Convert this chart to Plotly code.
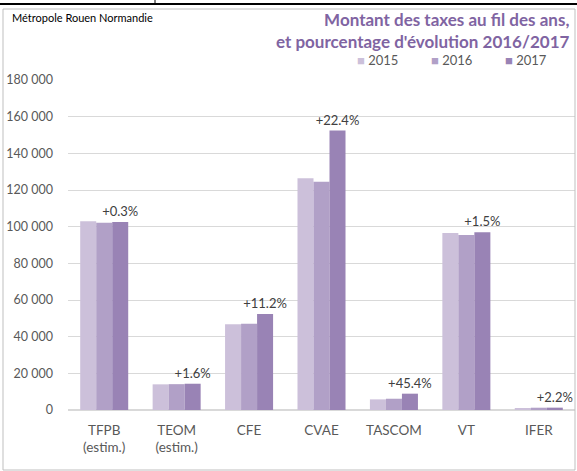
import plotly.graph_objects as go

categories = ["TFPB<br>(estim.)", "TEOM<br>(estim.)", "CFE", "CVAE", "TASCOM", "VT", "IFER"]
v2015 = [103000, 14000, 46750, 126400, 5800, 96550, 1100]
v2016 = [102200, 14100, 47100, 124550, 6150, 95450, 1250]
v2017 = [102500, 14330, 52360, 152400, 8900, 96900, 1280]
evolution = ["+0.3%", "+1.6%", "+11.2%", "+22.4%", "+45.4%", "+1.5%", "+2.2%"]
years = ["2015", "2016", "2017"]
colors = ["#CCC0DA", "#B1A0C7", "#9983B5"]

FONT = "Lato, 'Open Sans', sans-serif"
W, H = 577, 471
ML, MR, MT, MB = 68, 2, 80, 61
pw = W - ML - MR
ph = H - MT - MB


def px(x):
    return (x - ML) / pw


def py(y):
    return (H - MB - y) / ph


fig = go.Figure()
for name, vals, col in zip(years, [v2015, v2016, v2017], colors):
    is_last = name == "2017"
    fig.add_trace(go.Bar(
        x=categories, y=vals, name=name, marker=dict(color=col, line=dict(width=0)),
        text=evolution if is_last else None,
        textposition="outside" if is_last else "none",
        constraintext="none",
        textfont=dict(size=13, color="#404040", family=FONT),
        cliponaxis=False, showlegend=False,
    ))

annotations = [
    dict(text="Métropole Rouen Normandie", xref="paper", yref="paper",
         x=px(10), y=py(9), xanchor="left", yanchor="top",
         showarrow=False, font=dict(size=11, color="#000000", family=FONT)),
    dict(text="<b>Montant des taxes au fil des ans,<br>et pourcentage d'évolution 2016/2017</b>",
         xref="paper", yref="paper", x=px(571), y=py(7), xanchor="right", yanchor="top",
         align="right", showarrow=False,
         font=dict(size=17, color="#8064A2", family=FONT)),
]
# custom legend
for i, (yr, col) in enumerate(zip(years, colors)):
    annotations.append(dict(
        text=f'<span style="color:{col}">■</span> {yr}', xref="paper", yref="paper",
        x=px(355 + 74 * i), y=py(60), xanchor="left", yanchor="middle", showarrow=False,
        font=dict(size=13, color="#595959", family=FONT)))

fig.update_layout(
    width=W, height=H,
    margin=dict(l=ML, r=MR, t=MT, b=MB),
    paper_bgcolor="white", plot_bgcolor="white",
    barmode="group", bargap=0.337, bargroupgap=0,
    separators=", ",
    font=dict(family=FONT, size=12, color="#595959"),
    yaxis=dict(range=[0, 180000], dtick=20000, tickformat=",d", showgrid=True,
               gridcolor="#D9D9D9", gridwidth=1, zeroline=True, zerolinecolor="#D9D9D9",
               showline=False, ticks="", tickfont=dict(size=12.5, color="#595959"),
               ticklabelstandoff=14),
    xaxis=dict(showline=False, ticks="", tickfont=dict(size=13.5, color="#595959"),
               ticklabelstandoff=10),
    annotations=annotations,
)
fig.add_shape(type="line", xref="paper", yref="paper", x0=px(0), x1=px(577), y0=py(4), y1=py(4),
              line=dict(color="black", width=2))
fig.add_shape(type="line", xref="paper", yref="paper", x0=px(155), x1=px(155), y0=py(0), y1=py(4),
              line=dict(color="black", width=1))
fig.add_shape(type="rect", xref="paper", yref="paper", x0=px(3), x1=px(575), y0=py(470), y1=py(9),
              line=dict(color="#BFBFBF", width=1))

fig.write_html("out.html", config={"displayModeBar": False},
               post_script="document.body.style.margin='0';")
